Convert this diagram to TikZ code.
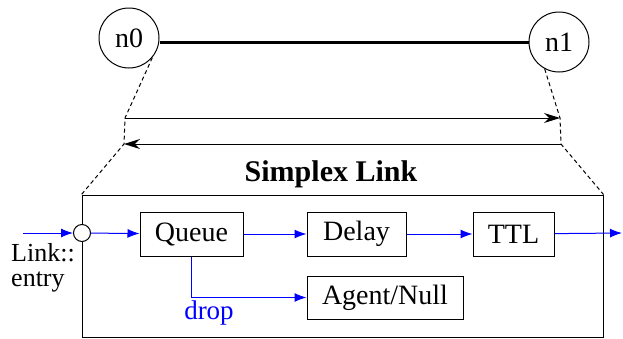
\documentclass[tikz,border=0pt]{standalone}
\usepackage{fontspec}
\setmainfont{Liberation Serif}
\usetikzlibrary{arrows.meta}

\begin{document}
\begin{tikzpicture}[x=1pt, y=-1pt, line width=1pt,
    netnode/.style={draw, circle, minimum size=60pt, inner sep=0pt, font=\fontsize{28}{30}\selectfont},
    block/.style={draw, rectangle, inner sep=0pt, minimum height=44pt, font=\fontsize{28}{30}\selectfont},
    flow/.style={blue, -{Latex[length=12pt,width=9pt]}},
    zoomline/.style={dash pattern=on 4pt off 3pt}]
    \useasboundingbox (0,0) rectangle (623,338);

    % Topology: two nodes and the link
    \node[netnode] (n0) at (129,38) {n0};
    \node[netnode] (n1) at (559,42) {n1};
    \draw[line width=3pt] (n0.east |- n1.center) -- (n1.west);

    % Simplex link box
    \node[draw, inner sep=0pt, minimum width=521pt, minimum height=142pt] (link) at (342.5,266) {};
    \node[font=\bfseries\fontsize{30}{32}\selectfont, anchor=base] (title) at (331,181) {Simplex Link};

    % Zoom lines
    \coordinate (a1) at (125,118);
    \coordinate (a2) at (124,144);
    \coordinate (b1) at (560,118);
    \coordinate (b2) at (561,144);
    \draw[zoomline] (n0.-40) -- (a1) -- (a2) -- (link.north west);
    \draw[zoomline] (n1.-118) -- (b1) -- (b2) -- (link.north east);

    % Two directions
    \draw[-{Stealth[length=16pt,width=10pt]}] (a1) -- (b1);
    \draw[-{Stealth[length=16pt,width=10pt]}] (b2) -- (a2);

    % Components
    \node[block, minimum width=103pt] (queue) at (191.5,234) {Queue};
    \node[block, minimum width=99pt] (delay) at (356.5,234) {Delay};
    \node[block, minimum width=81pt] (ttl) at (513.5,234) {TTL};
    \node[block, minimum width=156pt, minimum height=43pt] (agent) at (385,297.5) {Agent/Null};

    % Entry point
    \node[draw, circle, fill=white, minimum size=17pt, inner sep=0pt] (entry) at (82,233) {};
    \node[align=left, inner sep=0pt, font=\fontsize{26}{25}\selectfont] (entrylabel) at (43,268) {Link::\\entry};
    \coordinate (in) at (23,233);
    \coordinate (out) at (622,233);

    % Packet flow
    \draw[flow] (in) -- (entry);
    \draw[flow] (entry) -- (queue);
    \draw[flow] (queue) -- (delay);
    \draw[flow] (delay) -- (ttl);
    \draw[flow] (ttl) -- (out);
    \draw[flow] (queue.south) |- (agent.west);
    \node[blue, font=\fontsize{27}{29}\selectfont] (drop) at (209,313) {drop};

\end{tikzpicture}
\end{document}
